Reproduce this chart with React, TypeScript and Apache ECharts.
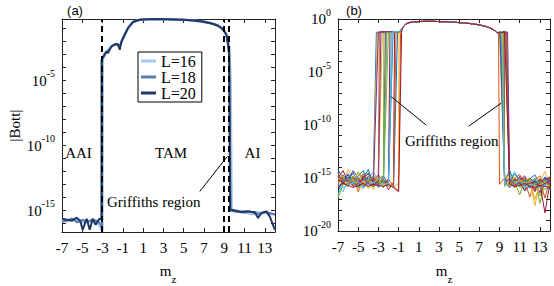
import React, { useEffect, useRef } from "react";
import * as echarts from "echarts";

const SERIF = "'Liberation Serif', 'Times New Roman', serif";
const SANS = "'Liberation Sans', Arial, sans-serif";

const X_TICKS = [-7, -5, -3, -1, 1, 3, 5, 7, 9, 11, 13];
const A_Y_LABELS = [-15, -10, -5];
const A_Y_TICKS = [-16, -15, -14, -13, -12, -11, -10, -9, -8, -7, -6, -5, -4, -3, -2, -1];
const B_Y_LABELS = [-20, -15, -10, -5, 0];
const B_Y_TICKS = [-20, -19, -18, -17, -16, -15, -14, -13, -12, -11, -10, -9, -8, -7, -6, -5, -4, -3, -2, -1, 0];

// Panel (a): [m_z, log10|Bott|]
const A_L16 = [
  [-7, -15.75], [-6.5, -15.8], [-6, -15.7], [-5.5, -15.75], [-5, -15.9], [-4.5, -15.8], [-4, -15.85],
  [-3.5, -15.9], [-3.2, -16.3], [-3.02, -16.6], [-2.98, -3.4], [-2.8, -3.0], [-2.5, -2.7], [-2.1, -2.35],
  [-1.7, -2.15], [-1.3, -2.3], [-1.1, -1.95], [-0.8, -1.45], [-0.5, -0.95], [0, -0.48], [0.66, -0.31],
  [1.5, -0.27], [2.63, -0.25], [4, -0.28], [5, -0.31], [5.92, -0.36], [6.8, -0.45], [7.57, -0.56],
  [8.0, -0.65], [8.39, -0.77], [8.7, -0.93], [8.9, -1.1], [9.1, -1.3], [9.3, -1.6], [9.5, -2.5],
  [9.62, -5.0], [9.72, -15.0], [10.25, -15.1], [10.75, -15.05], [11.25, -15.15], [11.75, -15.25],
  [12.25, -15.1], [12.75, -15.2], [13.25, -15.15], [13.75, -15.25], [14, -15.3]
];
const A_L18 = [
  [-7, -15.85], [-6.5, -15.75], [-6, -15.6], [-5.5, -15.9], [-5, -15.7], [-4.5, -15.85], [-4, -15.7],
  [-3.5, -15.8], [-3.2, -16.0], [-3.06, -16.3], [-3.05, -3.3], [-2.8, -2.9], [-2.5, -2.7], [-2.1, -2.35],
  [-1.7, -2.15], [-1.3, -2.4], [-1.1, -1.95], [-0.8, -1.45], [-0.5, -0.95], [0, -0.48], [0.66, -0.31],
  [1.5, -0.27], [2.63, -0.25], [4, -0.28], [5, -0.31], [5.92, -0.36], [6.8, -0.45], [7.57, -0.56],
  [8.0, -0.65], [8.39, -0.77], [8.7, -0.93], [8.88, -1.08], [9.05, -1.25], [9.21, -1.46], [9.4, -2.3],
  [9.5, -3.0], [9.62, -15.0], [10, -15.05], [10.5, -15.1], [11, -15.15], [11.5, -15.05], [12, -15.2],
  [12.5, -15.25], [13, -15.1], [13.5, -15.2], [14, -15.3]
];
const A_L20 = [
  [-7, -15.62], [-6.5, -15.7], [-6.0, -15.77], [-5.55, -15.54], [-5.2, -15.8], [-4.96, -16.46],
  [-4.56, -15.62], [-4.27, -16.46], [-3.97, -15.62], [-3.68, -16.08], [-3.3, -15.6], [-3.11, -15.7],
  [-3.1, -3.38], [-2.79, -3.0], [-2.62, -2.75], [-2.46, -2.87], [-2.13, -2.36], [-1.8, -2.23],
  [-1.48, -2.18], [-1.31, -2.62], [-1.14, -1.98], [-0.82, -1.46], [-0.49, -0.95], [0, -0.48],
  [0.66, -0.31], [1.5, -0.27], [2.63, -0.25], [4, -0.28], [5, -0.31], [5.92, -0.36], [6.8, -0.45],
  [7.57, -0.56], [8.0, -0.65], [8.39, -0.77], [8.7, -0.93], [8.88, -1.08], [9.05, -1.25], [9.21, -1.46],
  [9.37, -2.23], [9.47, -3.0], [9.58, -14.92], [9.7, -14.92], [10.2, -15.0], [10.7, -15.1],
  [11.19, -15.05], [11.6, -15.08], [12.0, -15.1], [12.33, -15.56], [12.66, -15.18], [13.16, -15.05],
  [13.48, -15.44], [13.98, -16.46]
];
const A_NAMES = ["L=16", "L=18", "L=20"];
const A_COLORS = ["#a6c9ec", "#5b7db1", "#203864"];
const A_DASHED = [-3.1, 8.9, 9.45];

// Panel (b): shared plateau and per-realization edges / floor noise
const B_PLATEAU = [
  [-0.9, -1.2], [-0.6, -0.8], [-0.3, -0.5], [0, -0.35], [0.5, -0.27], [1, -0.24], [2, -0.22], [3, -0.24],
  [4, -0.28], [5, -0.34], [6, -0.42], [7, -0.55], [7.8, -0.75], [8.3, -0.95], [8.6, -1.15], [8.8, -1.3]
];
const B_FLOOR_LEFT_M = [-7, -6.5, -6, -5.5, -5, -4.5, -4, -3.5, -3, -2.5, -2, -1.5, -1];
const B_FLOOR_RIGHT_M = [9, 9.5, 10, 10.5, 11, 11.5, 12, 12.5, 13, 13.5, 14];
const B_LEFT_EDGE = [-3.2, -2.9, -2.6, -2.3, -2.0, -1.7, -1.4, -1.1, -0.8, -3.1, -2.75, -2.45, -2.15, -1.85, -1.55, -1.25, -0.95, -3.0, -2.2, -1.6, -0.7];
const B_RIGHT_EDGE = [9.3, 9.6, 9.1, 9.4, 9.0, 9.5, 9.2, 9.7, 8.9, 9.35, 9.05, 9.55, 9.25, 9.45, 9.15, 9.65, 9.3, 9.8, 9.4, 9.2, 9.5];
const B_STEP = [-1.25, -1.2, -1.3, -1.2, -1.25, -1.15, -1.3, -1.2, -1.25, -1.3, -1.2, -1.25, -1.3, -1.2, -1.25, -1.3, -1.2, -1.25, -1.3, -1.2, -1.25];
const B_FLOOR_LEFT = [
  [-14.2, -15.1, -14.6, -15.3, -14.8, -14.3, -15.6, -14.9, -15.2, -14.6, -15.0, -14.7, -15.4],
  [-15.2, -14.7, -15.5, -14.9, -16.3, -15.0, -14.6, -15.4, -14.8, -15.7, -14.9, -15.3, -14.6],
  [-14.9, -15.5, -14.2, -15.0, -15.4, -14.7, -15.1, -16.1, -14.9, -15.2, -15.8, -14.8, -15.1],
  [-15.6, -14.8, -15.2, -14.3, -15.0, -15.7, -14.8, -15.3, -15.6, -14.9, -15.4, -16.0, -15.2],
  [-14.6, -15.3, -14.9, -15.6, -14.4, -15.2, -14.5, -15.8, -15.0, -15.5, -16.0, -15.3, -15.7],
  [-16.7, -15.0, -14.6, -15.2, -14.9, -15.5, -15.1, -14.4, -15.3, -15.9, -15.1, -15.6, -15.0],
  [-15.0, -14.3, -15.4, -15.1, -15.8, -14.8, -15.3, -15.0, -15.5, -15.2, -16.1, -15.4, -15.8],
  [-15.3, -14.9, -15.2, -14.5, -15.4, -15.0, -14.2, -15.6, -15.1, -14.8, -15.6, -15.9, -15.3],
  [-14.5, -15.6, -15.0, -15.7, -15.2, -14.6, -15.5, -15.1, -14.7, -15.4, -15.1, -15.8, -16.2],
  [-15.1, -14.8, -15.6, -15.2, -14.6, -15.4, -15.7, -15.0, -15.4, -15.1, -15.5, -15.2, -15.6],
  [-14.8, -15.2, -14.7, -15.6, -15.3, -15.0, -14.6, -15.2, -15.9, -15.4, -15.0, -15.7, -15.4],
  [-15.4, -15.0, -15.3, -14.8, -15.6, -16.0, -15.2, -14.8, -15.3, -15.9, -15.2, -15.5, -15.9],
  [-15.7, -16.3, -15.1, -15.5, -15.0, -15.3, -15.8, -15.4, -15.0, -15.6, -16.1, -15.5, -16.0],
  [-15.2, -15.4, -15.8, -15.0, -15.4, -15.1, -15.5, -15.8, -15.2, -15.5, -15.3, -16.2, -15.6],
  [-16.0, -15.3, -14.9, -15.4, -15.9, -15.2, -15.0, -15.4, -15.7, -15.1, -15.6, -15.4, -15.8],
  [-15.5, -15.1, -15.3, -15.6, -15.0, -15.5, -15.3, -15.0, -15.6, -15.3, -15.8, -15.5, -15.1],
  [-15.3, -15.7, -15.4, -15.1, -15.7, -15.3, -16.0, -15.5, -15.1, -15.7, -15.4, -15.9, -15.5],
  [-15.8, -15.4, -15.2, -15.8, -15.5, -15.8, -15.4, -15.7, -15.3, -15.6, -15.3, -15.6, -15.9],
  [-16.9, -15.6, -15.5, -15.3, -15.9, -15.6, -15.3, -15.8, -15.5, -15.4, -15.8, -15.7, -15.4],
  [-15.6, -15.9, -15.6, -15.5, -15.3, -15.9, -15.6, -15.4, -15.9, -15.5, -15.7, -16.0, -15.7],
  [-15.9, -15.5, -15.7, -15.9, -15.7, -15.5, -15.8, -15.6, -15.7, -15.8, -15.6, -15.9, -16.3]
];
const B_FLOOR_RIGHT = [
  [-14.8, -15.3, -14.3, -15.5, -14.9, -16.2, -15.1, -14.7, -15.6, -14.9, -15.2],
  [-15.4, -14.9, -15.6, -15.0, -14.7, -15.3, -16.8, -15.2, -14.8, -15.5, -15.0],
  [-15.1, -14.6, -15.2, -14.9, -15.7, -15.0, -15.4, -17.6, -15.3, -14.4, -15.4],
  [-14.9, -15.5, -15.0, -15.8, -15.2, -14.8, -15.9, -15.1, -16.4, -15.2, -14.9],
  [-15.3, -15.0, -14.7, -15.4, -16.6, -15.1, -15.6, -15.0, -17.4, -15.3, -15.1],
  [-15.0, -15.6, -15.2, -14.4, -15.5, -15.1, -16.0, -15.4, -15.0, -15.7, -15.2],
  [-14.7, -15.2, -15.8, -15.3, -15.0, -15.6, -15.2, -16.3, -15.1, -15.5, -14.9],
  [-15.5, -15.1, -15.4, -14.6, -15.2, -15.7, -15.0, -15.4, -15.9, -15.1, -15.6],
  [-15.6, -15.0, -15.3, -15.9, -14.8, -15.3, -15.0, -15.7, -15.2, -16.9, -15.0],
  [-15.2, -14.8, -15.3, -15.0, -15.6, -15.9, -15.2, -15.5, -15.0, -15.3, -15.8],
  [-15.0, -15.4, -15.1, -15.7, -15.3, -15.0, -15.5, -16.1, -15.4, -15.0, -15.3],
  [-14.6, -15.1, -15.5, -15.2, -15.8, -15.3, -15.1, -15.6, -16.7, -15.2, -15.5],
  [-15.2, -15.7, -15.0, -15.4, -15.1, -15.8, -15.4, -15.2, -15.6, -15.4, -16.0],
  [-15.1, -15.3, -15.9, -15.1, -15.4, -16.2, -15.7, -15.3, -15.5, -18.3, -15.4],
  [-15.4, -15.1, -15.5, -15.2, -15.6, -15.2, -15.9, -15.4, -15.2, -15.7, -15.3],
  [-15.3, -15.6, -15.2, -15.9, -15.4, -15.0, -15.4, -15.8, -15.3, -15.5, -15.6],
  [-15.6, -15.3, -15.7, -15.4, -15.2, -15.5, -15.3, -17.0, -15.6, -15.4, -15.9],
  [-15.7, -15.4, -15.1, -15.6, -15.5, -15.7, -15.5, -15.3, -15.8, -15.5, -15.3],
  [-15.5, -15.8, -15.4, -15.3, -15.9, -15.6, -15.7, -15.5, -15.4, -16.1, -15.7],
  [-15.8, -15.5, -15.8, -15.6, -15.3, -15.9, -15.6, -15.7, -15.9, -15.6, -16.2],
  [-15.9, -15.7, -15.6, -15.8, -15.7, -15.5, -15.8, -15.9, -15.7, -15.8, -15.9]
];
const B_COLORS = ["#0072BD", "#D95319", "#EDB120", "#7E2F8E", "#77AC30", "#4DBEEE", "#A2142F"];

// Annotation arrows in data coordinates: [tail, head]
const A_ARROW = [[6.58, -13.52], [9.31, -10.82]];
const B_ARROWS = [
  [[1.75, -10.02], [-1.71, -7.34]],
  [[5.94, -10.11], [9.18, -7.93]]
];

function buildRealization(i: number) {
  const L = B_LEFT_EDGE[i];
  const R = B_RIGHT_EDGE[i];
  const S = B_STEP[i];
  const pts: number[][] = [];
  B_FLOOR_LEFT_M.forEach((m, k) => {
    if (m < L) pts.push([m, B_FLOOR_LEFT[i][k]]);
  });
  pts.push([L, S]);
  B_PLATEAU.forEach(([m, v]) => {
    if (m > L && m < R) pts.push([m, v]);
  });
  pts.push([R, S]);
  B_FLOOR_RIGHT_M.forEach((m, k) => {
    if (m > R) pts.push([m, B_FLOOR_RIGHT[i][k]]);
  });
  return pts;
}

const yLabelFmt = (v: number) => `{b|10}{s|${Math.round(v)}}`;
const yRich = {
  b: { fontSize: 15, fontFamily: SERIF, color: "#000", lineHeight: 24 },
  s: { fontSize: 10, fontFamily: SERIF, color: "#000", lineHeight: 10, verticalAlign: "top" }
};

const AX_LINE = { show: true, onZero: false, lineStyle: { color: "#222", width: 1 } };

function xAxes(grid: number) {
  return [
    {
      type: "value", gridIndex: grid, position: "bottom", min: -7, max: 14,
      axisLine: AX_LINE,
      axisTick: { inside: true, length: 4, customValues: X_TICKS, lineStyle: { color: "#222" } },
      axisLabel: { customValues: X_TICKS, fontSize: 15, fontFamily: SERIF, color: "#000", margin: 8 },
      splitLine: { show: false }
    },
    {
      type: "value", gridIndex: grid, position: "top", min: -7, max: 14,
      axisLine: AX_LINE,
      axisTick: { inside: true, length: 4, customValues: X_TICKS, lineStyle: { color: "#222" } },
      axisLabel: { show: false },
      splitLine: { show: false }
    }
  ];
}

function yAxes(grid: number, min: number, max: number, labels: number[], ticks: number[], name: string) {
  return [
    {
      type: "value", gridIndex: grid, position: "left", min, max,
      name, nameLocation: "middle", nameGap: 40,
      nameTextStyle: { fontSize: 15, fontFamily: SERIF, color: "#000" },
      axisLine: AX_LINE,
      axisTick: { inside: true, length: 4, customValues: ticks, lineStyle: { color: "#222" } },
      axisLabel: { customValues: labels, formatter: yLabelFmt, rich: yRich, margin: 7 },
      splitLine: { show: false }
    },
    {
      type: "value", gridIndex: grid, position: "right", min, max,
      axisLine: AX_LINE,
      axisTick: { inside: true, length: 4, customValues: ticks, lineStyle: { color: "#222" } },
      axisLabel: { show: false },
      splitLine: { show: false }
    }
  ];
}

export default function App() {
  const ref = useRef<HTMLDivElement>(null);
  useEffect(() => {
    if (!ref.current) return;
    const chart = echarts.init(ref.current, null, { renderer: "svg" });

    const aSeries: any[] = [A_L16, A_L18, A_L20].map((d, i) => ({
      type: "line", name: A_NAMES[i], xAxisIndex: 0, yAxisIndex: 0, data: d,
      showSymbol: false, symbol: "none", silent: true,
      lineStyle: { color: A_COLORS[i], width: i === 0 ? 2.6 : 2 },
      itemStyle: { color: A_COLORS[i] },
      z: 2 + i
    }));
    aSeries[2].markLine = {
      silent: true, symbol: ["none", "none"], animation: false,
      label: { show: false },
      lineStyle: { color: "#000", width: 2, type: [6, 4] },
      data: A_DASHED.map((x) => ({ xAxis: x }))
    };
    aSeries[1].markLine = {
      silent: true, symbol: ["none", "arrow"], symbolSize: [0, 8], animation: false,
      label: { show: false },
      lineStyle: { color: "#000", width: 1, type: "solid" },
      data: [[{ coord: A_ARROW[0] }, { coord: A_ARROW[1] }]]
    };

    const bSeries: any[] = B_LEFT_EDGE.map((_, i) => ({
      type: "line", name: "r" + i, xAxisIndex: 2, yAxisIndex: 2, data: buildRealization(i),
      showSymbol: false, symbol: "none", silent: true,
      lineStyle: { color: B_COLORS[i % B_COLORS.length], width: 1 },
      z: 2
    }));
    bSeries[bSeries.length - 1].markLine = {
      silent: true, symbol: ["none", "arrow"], symbolSize: [0, 8], animation: false,
      label: { show: false },
      lineStyle: { color: "#000", width: 1, type: "solid" },
      data: B_ARROWS.map((a) => [{ coord: a[0] }, { coord: a[1] }])
    };

    const txt = (text: string, x: number, y: number, fontSize = 15, font = SERIF, align = "center") => ({
      type: "text", x, y, silent: true, z: 10,
      style: { text, fontSize, fontFamily: font, fill: "#000", align, verticalAlign: "middle" }
    });
    const mz = (x: number, y: number) => ({
      type: "text", x, y, silent: true, z: 10,
      style: {
        text: "{m|m}{z|z}", align: "center", verticalAlign: "middle",
        rich: {
          m: { fontSize: 15, fontFamily: SERIF, fill: "#000", lineHeight: 27 },
          z: { fontSize: 11, fontFamily: SERIF, fill: "#000", lineHeight: 11, verticalAlign: "bottom" }
        }
      }
    });

    chart.setOption({
      animation: false,
      backgroundColor: "#fff",
      grid: [
        { left: 62, top: 19, width: 213, height: 213 },
        { left: 338, top: 19, width: 212, height: 212 }
      ],
      xAxis: [...xAxes(0), ...xAxes(1)],
      yAxis: [
        ...yAxes(0, -16.64, -0.25, A_Y_LABELS, A_Y_TICKS, "|Bott|"),
        ...yAxes(1, -20, 0, B_Y_LABELS, B_Y_TICKS, "")
      ],
      legend: {
        data: A_NAMES, left: 138, top: 52, orient: "vertical", icon: "rect",
        itemWidth: 15, itemHeight: 3, itemGap: 0, selectedMode: false,
        padding: [1, 6, 1, 3], borderColor: "#000", borderWidth: 1, backgroundColor: "#fff",
        textStyle: { fontSize: 16, fontFamily: SERIF, color: "#000", lineHeight: 15 }
      },
      graphic: [
        txt("(a)", 75, 10, 13, SANS),
        txt("(b)", 354, 10, 13, SANS),
        txt("AAI", 78.5, 153),
        txt("TAM", 171, 153),
        txt("AI", 252.5, 153),
        txt("Griffiths region", 107, 202, 15, SERIF, "left"),
        txt("Griffiths region", 405, 141, 15, SERIF, "left"),
        mz(168, 271),
        mz(444, 271)
      ],
      series: [...aSeries, ...bSeries]
    });
    return () => chart.dispose();
  }, []);
  return <div ref={ref} style={{ position: "absolute", left: 0, top: 0, width: 554, height: 286 }} />;
}
